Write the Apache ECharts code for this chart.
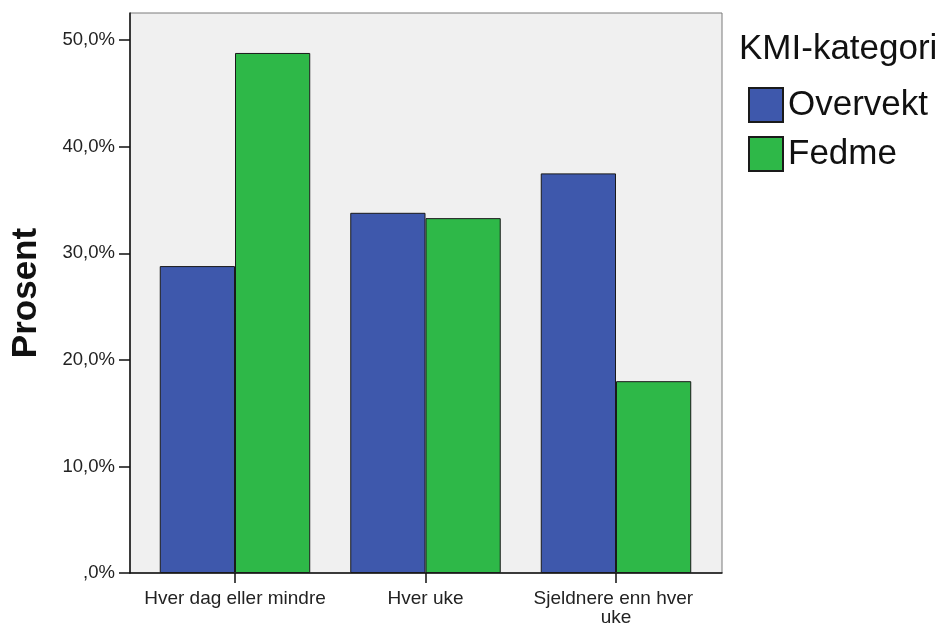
<!DOCTYPE html>
<html>
<head>
<meta charset="utf-8">
<script src="https://cdn.jsdelivr.net/npm/echarts@6/dist/echarts.min.js"></script>
<style>
  html, body { margin: 0; padding: 0; background: #fff; }
  #chart { width: 946px; height: 623px; }
</style>
</head>
<body>
<div id="chart"></div>
<script>
const categories = ["Hver dag eller mindre", "Hver uke", "Sjeldnere enn hver uke"];
const overvekt = [28.8, 33.8, 37.5];
const fedme = [48.8, 33.3, 18.0];
const yTicks = [0, 10, 20, 30, 40, 50];

const FONT = "Liberation Sans, Arial, sans-serif";

function pct(v) {
  // SPSS style: ",0%" / "10,0%"
  const s = v.toFixed(1).replace(".", ",");
  return (v === 0 ? s.replace(/^0/, "") : s) + "%";
}

const chart = echarts.init(document.getElementById("chart"), null, { renderer: "canvas" });

chart.setOption({
  animation: false,
  backgroundColor: "#fff",
  title: {
    text: "KMI-kategori",
    left: 734,
    top: 27,
    textStyle: { fontFamily: FONT, fontSize: 35, fontWeight: "normal", color: "#111" }
  },
  legend: {
    orient: "vertical",
    left: 743,
    top: 82,
    itemWidth: 34,
    itemHeight: 34,
    itemGap: 13,
    icon: "rect",
    data: ["Overvekt", "Fedme"],
    textStyle: { fontFamily: FONT, fontSize: 35, color: "#111" }
  },
  grid: [
    { left: 130, top: 13, width: 592, height: 560, outerBoundsMode: "none", show: true, backgroundColor: "#f0f0f0", borderColor: "#7a7a7a", borderWidth: 1 },
    { left: 139.75, top: 13, width: 571.5, height: 560, outerBoundsMode: "none" }
  ],
  xAxis: [
    {
      gridIndex: 0, type: "value", min: 0, max: 1,
      axisLine: { show: true, lineStyle: { color: "#111", width: 1.5 } },
      axisTick: { show: false }, axisLabel: { show: false }, splitLine: { show: false }
    },
    {
      gridIndex: 1, type: "category", data: categories, boundaryGap: true,
      axisLine: { show: false },
      axisTick: { show: true, alignWithLabel: true, length: 10, lineStyle: { color: "#111", width: 1.5 } },
      axisLabel: {
        interval: 0, margin: 16, width: 185, overflow: "break", lineHeight: 19,
        fontFamily: FONT, fontSize: 19, color: "#222"
      }
    }
  ],
  yAxis: [
    {
      gridIndex: 0, type: "value", min: 0, max: 52.55, interval: 10,
      name: "Prosent", nameLocation: "middle", nameGap: 86, nameRotate: 90,
      nameTextStyle: { fontFamily: FONT, fontSize: 35, fontWeight: "bold", color: "#111" },
      axisLine: { show: true, lineStyle: { color: "#111", width: 1.5 } },
      axisTick: { show: true, length: 11, customValues: yTicks, lineStyle: { color: "#111", width: 1.5 } },
      axisLabel: {
        margin: 15, fontFamily: FONT, fontSize: 18.5, color: "#222",
        customValues: yTicks,
        formatter: v => pct(v)
      },
      splitLine: { show: false }
    },
    {
      gridIndex: 1, type: "value", min: 0, max: 52.55, interval: 10, show: false,
      splitLine: { show: false }
    }
  ],
  series: [
    {
      name: "Overvekt", type: "bar", xAxisIndex: 1, yAxisIndex: 1,
      data: overvekt, barGap: "0%", barCategoryGap: "21%",
      itemStyle: { color: "#3e58ac", borderColor: "#1a1a1a", borderWidth: 1 }
    },
    {
      name: "Fedme", type: "bar", xAxisIndex: 1, yAxisIndex: 1,
      data: fedme, barGap: "0%", barCategoryGap: "21%",
      itemStyle: { color: "#2eb848", borderColor: "#1a1a1a", borderWidth: 1 }
    }
  ]
});
</script>
</body>
</html>
